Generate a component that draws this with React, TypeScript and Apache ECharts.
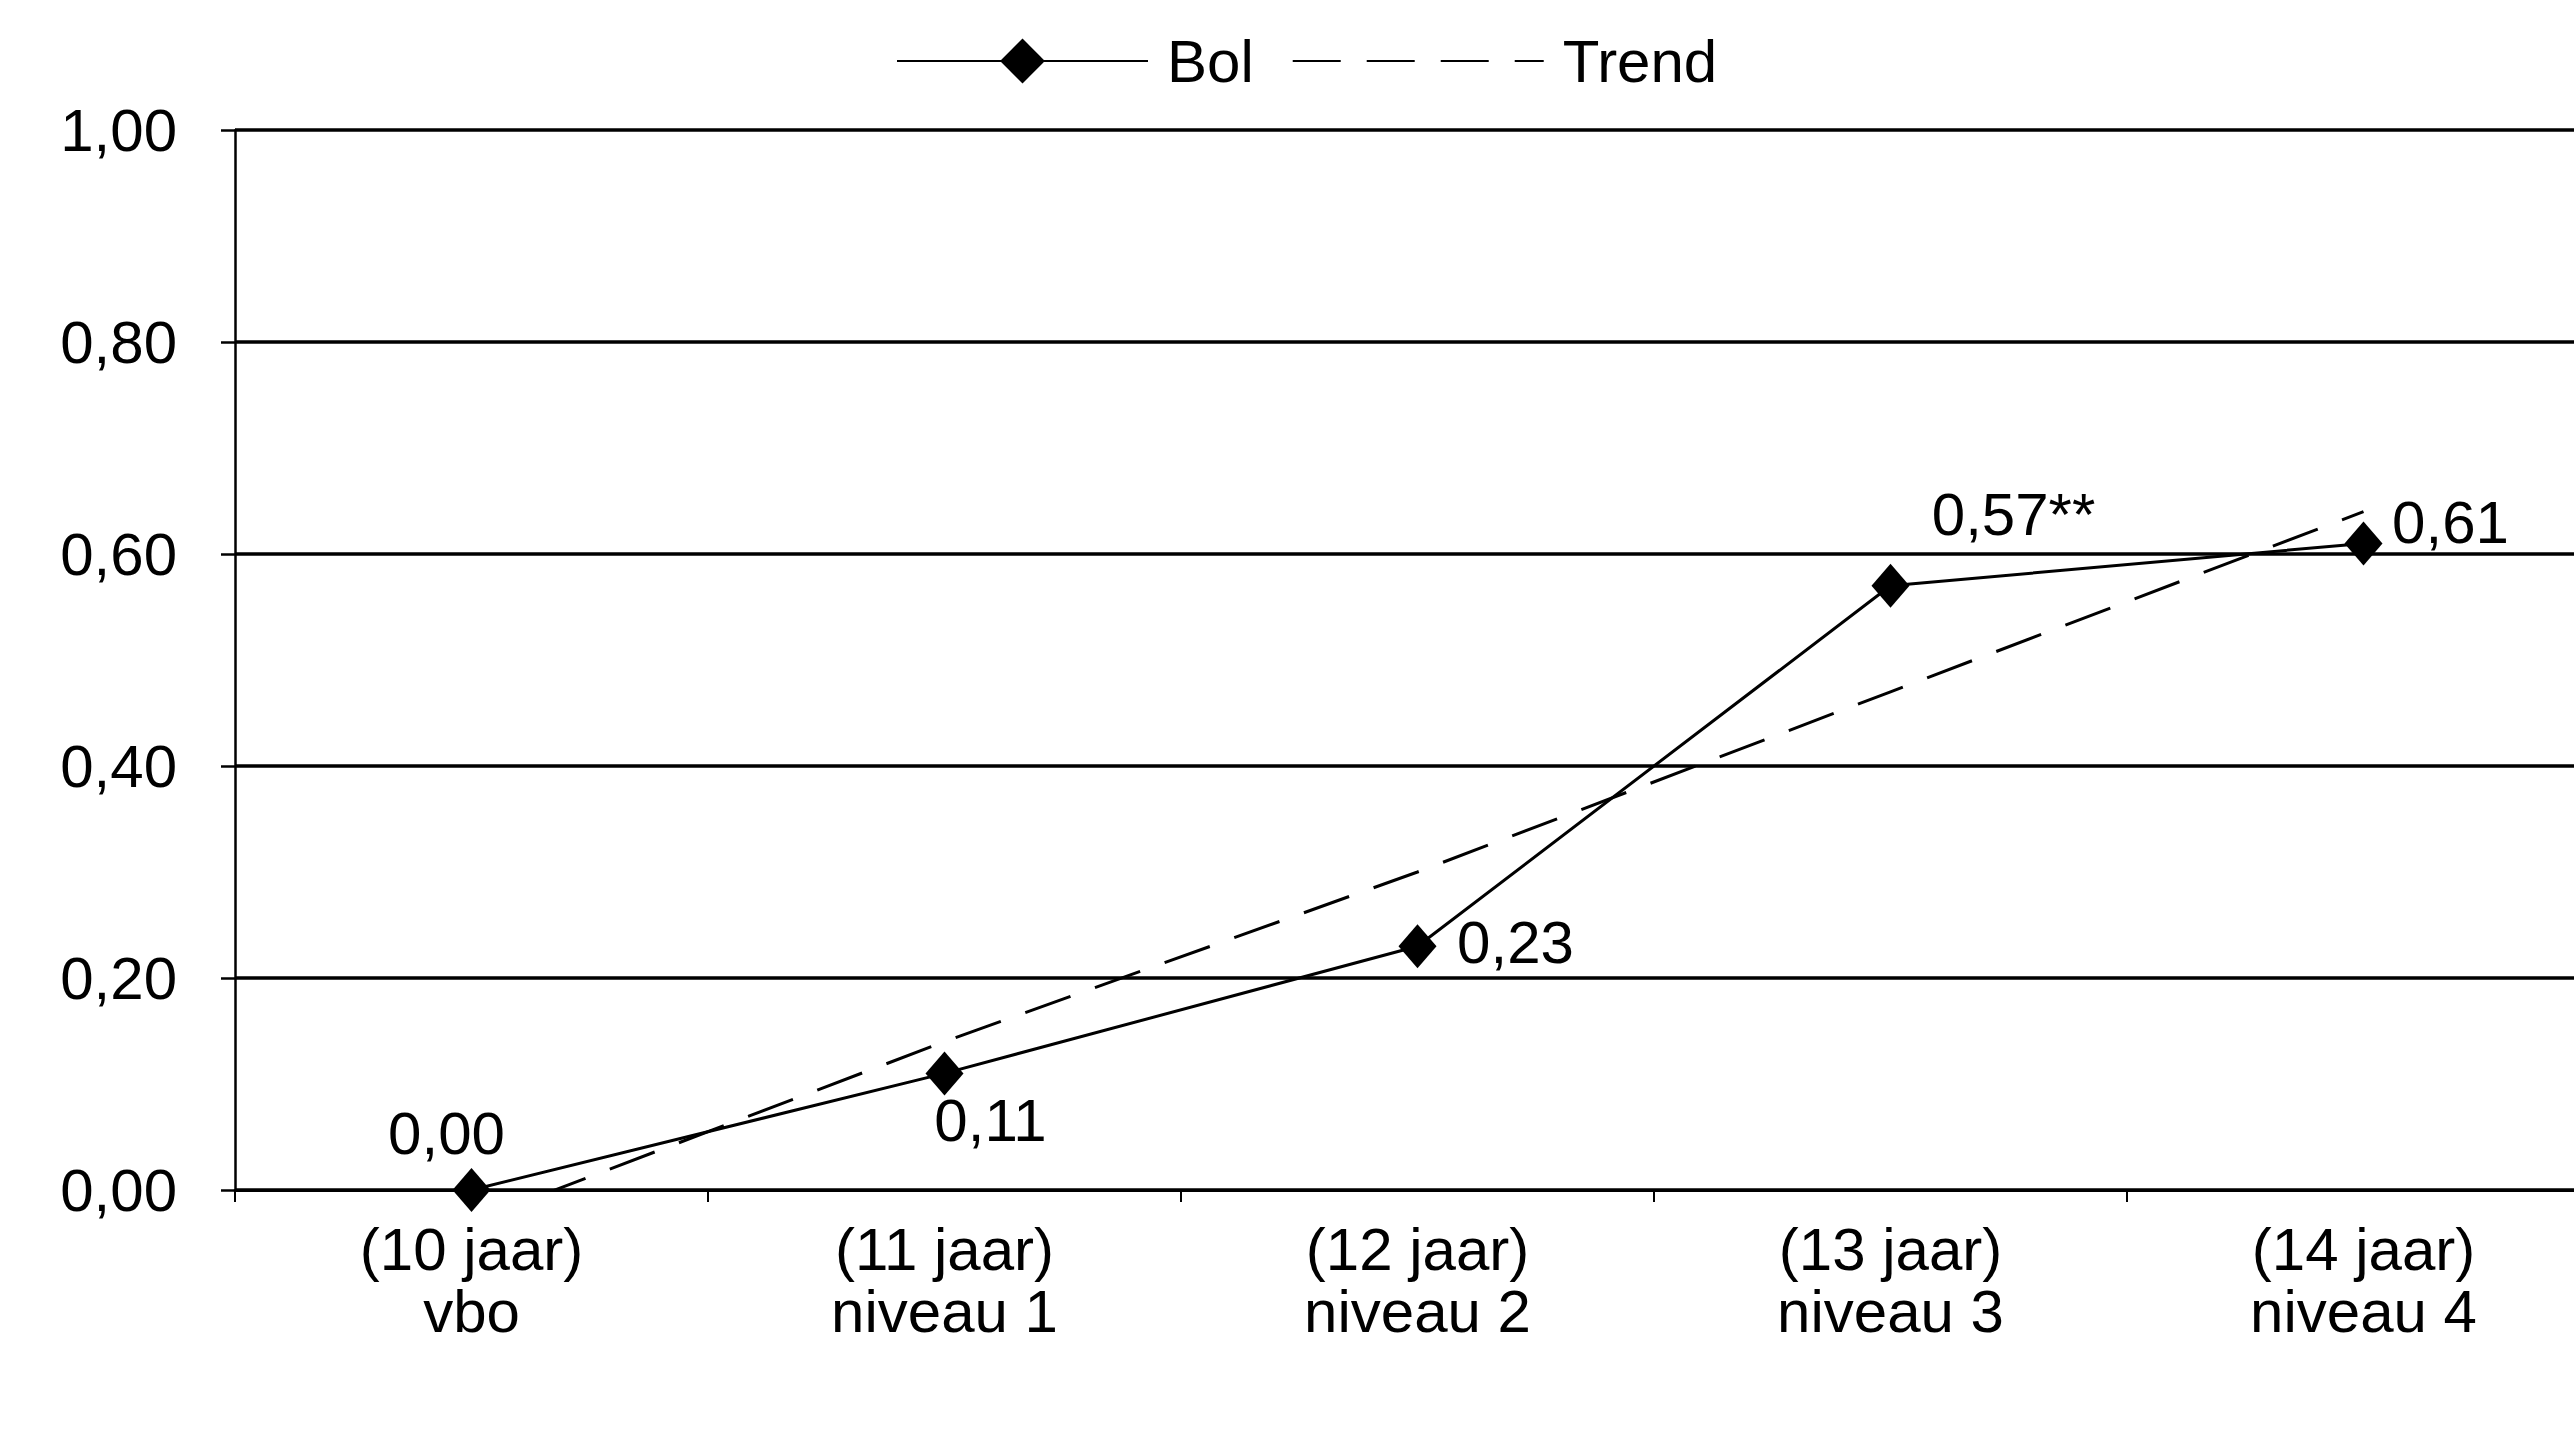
import React, { useEffect, useRef } from "react";
import * as echarts from "echarts";

const categories = [
  "(10 jaar)\nvbo",
  "(11 jaar)\nniveau 1",
  "(12 jaar)\nniveau 2",
  "(13 jaar)\nniveau 3",
  "(14 jaar)\nniveau 4",
];
const bolValues = [0.0, 0.11, 0.23, 0.57, 0.61];
const bolLabels = ["0,00", "0,11", "0,23", "0,57**", "0,61"];
const trendValues = [-0.03, 0.14, 0.3, 0.47, 0.64];
const yTicks = { min: 0, max: 1, interval: 0.2 };

const FONT = "'Liberation Sans', Arial, sans-serif";
const FS = 60;
const labelOffsets: [number, number][] = [
  [-25, -57],
  [46, 47],
  [98, -4],
  [123, -71],
  [87, -21],
];

export default function App() {
  const ref = useRef<HTMLDivElement>(null);
  useEffect(() => {
    if (!ref.current) return;
    const chart = echarts.init(ref.current, null, { renderer: "svg" });
    chart.setOption({
      animation: false,
      backgroundColor: "#ffffff",
      textStyle: { fontFamily: FONT, color: "#000" },
      legend: {
        left: 891,
        top: 26,
        itemWidth: 251,
        itemHeight: 56,
        itemGap: 38,
        textStyle: {
          fontFamily: FONT,
          fontSize: FS,
          color: "#000",
          padding: [0, 0, 0, 14],
        },
        data: [
          { name: "Bol" },
          { name: "Trend", itemStyle: { opacity: 0 } },
        ],
      },
      grid: { left: 235, top: 130, right: 0, height: 1060 },
      xAxis: {
        type: "category",
        data: categories,
        boundaryGap: true,
        axisLine: { show: true, lineStyle: { color: "#000", width: 3 } },
        axisTick: { show: true, length: 12, lineStyle: { color: "#000", width: 2 } },
        axisLabel: {
          color: "#000",
          fontFamily: FONT,
          fontSize: FS,
          lineHeight: 62,
          margin: 28,
          interval: 0,
        },
        splitLine: { show: false },
      },
      yAxis: {
        type: "value",
        min: yTicks.min,
        max: yTicks.max,
        interval: yTicks.interval,
        axisLine: { show: true, lineStyle: { color: "#000", width: 2.5 } },
        axisTick: { show: true, length: 14, lineStyle: { color: "#000", width: 2.5 } },
        axisLabel: {
          color: "#000",
          fontFamily: FONT,
          fontSize: FS,
          margin: 58,
          formatter: (v: number) => v.toFixed(2).replace(".", ","),
        },
        splitLine: { show: true, lineStyle: { color: "#000", width: 3.5 } },
      },
      series: [
        {
          name: "Bol",
          type: "line",
          data: bolValues.map((v, i) => ({
            value: v,
            label: {
              show: true,
              position: "inside",
              offset: labelOffsets[i],
              formatter: bolLabels[i],
            },
          })),
          symbol: "diamond",
          symbolSize: [38, 44],
          itemStyle: { color: "#000" },
          lineStyle: { color: "#000", width: 3 },
          label: { color: "#000", fontFamily: FONT, fontSize: FS },
          z: 3,
        },
        {
          name: "Trend",
          type: "line",
          data: trendValues,
          symbol: "none",
          clip: true,
          itemStyle: { color: "#000" },
          lineStyle: { color: "#000", width: 3, type: [48, 26] },
          z: 2,
        },
      ],
    });
    return () => chart.dispose();
  }, []);
  return (
    <div
      ref={ref}
      style={{ position: "fixed", left: 0, top: 0, width: 2600, height: 1452, background: "#fff" }}
    />
  );
}
